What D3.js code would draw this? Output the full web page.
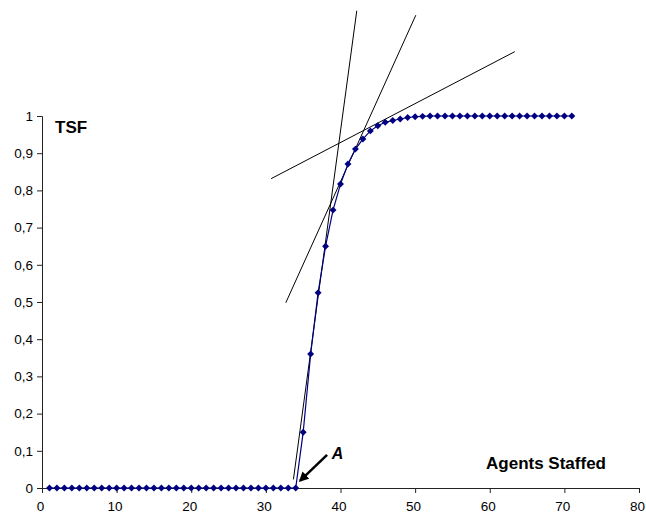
<!DOCTYPE html>
<html><head><meta charset="utf-8">
<script src="https://cdn.jsdelivr.net/npm/d3@7"></script>
<style>body{margin:0;background:#fff}svg{display:block}text{font-family:"Liberation Sans",Arial,sans-serif}</style>
</head><body>
<script>
// ---- data ----
const agents = d3.range(1, 72);
const tsfValues = [
  0,0,0,0,0,0,0,0,0,0, 0,0,0,0,0,0,0,0,0,0, 0,0,0,0,0,0,0,0,0,0, 0,0,0,0,
  0.15,0.36,0.525,0.65,0.747,0.817,0.871,0.911,0.938,0.96,0.974,0.983,0.988,0.992,0.996,0.998,0.999,
  1,1,1,1,1,1,1,1,1,1,1,1,1,1,1,1,1,1,1,1
];
const xTicks = [0,10,20,30,40,50,60,70,80];
const yTicks = [0,0.1,0.2,0.3,0.4,0.5,0.6,0.7,0.8,0.9,1];
const tangentLines = [
  [[33.69,0.023],[42.18,1.283]],
  [[32.67,0.498],[50.09,1.271]],
  [[30.7,0.8315],[63.36,1.173]]
];
const arrowSeg = [[38.2,0.089],[34.6,0.02]];
const labelA = [39.6,0.095];
const yTitle = "TSF";
const xTitle = "Agents Staffed";

// ---- layout ----
const W = 646, H = 517;
const svg = d3.select("body").append("svg").attr("width", W).attr("height", H);
const x = d3.scaleLinear().domain([0,80]).range([42,639]);
const y = d3.scaleLinear().domain([0,1]).range([488,116]);
const fmt = d => d === 0 ? "0" : d === 1 ? "1" : String(d).replace(".", ",");

const defs = svg.append("defs");
defs.append("marker").attr("id","ah").attr("viewBox","0 0 10 10").attr("refX",8).attr("refY",5)
  .attr("markerWidth",4).attr("markerHeight",4).attr("orient","auto")
  .append("path").attr("d","M0,0L10,5L0,10Z").attr("fill","#000");

// axes
const xAxis = svg.append("g").attr("transform",`translate(0,${y(0)})`)
  .call(d3.axisBottom(x).tickValues(xTicks).tickSize(5).tickPadding(8).tickFormat(d3.format("d")));
const yAxis = svg.append("g").attr("transform",`translate(${x(0)},0)`)
  .call(d3.axisLeft(y).tickValues(yTicks).tickSize(5).tickPadding(4).tickFormat(fmt));
[xAxis,yAxis].forEach(g=>{
  g.select(".domain").attr("stroke","#222").attr("stroke-width",1);
  g.selectAll(".tick line").attr("stroke","#222");
  g.selectAll("text").attr("font-size",13.5).attr("fill","#000").attr("font-family","'Liberation Sans',Arial,sans-serif");
});
xAxis.selectAll(".tick text").attr("dx",-2);

// tangent lines
const lineGen = d3.line().x(d=>x(d[0])).y(d=>y(d[1]));
svg.append("g").selectAll("path").data(tangentLines).join("path")
  .attr("d", lineGen).attr("fill","none").attr("stroke","#000").attr("stroke-width",1);

// series line
const pts = agents.map((a,i)=>[a,tsfValues[i]]);
svg.append("path").datum(pts).attr("d", d3.line().x(d=>x(d[0])).y(d=>y(d[1])))
  .attr("fill","none").attr("stroke","#000080").attr("stroke-width",1.2);

// markers
const sym = d3.symbol().type(d3.symbolSquare).size(24);
svg.append("g").selectAll("path").data(pts).join("path")
  .attr("d", sym).attr("fill","#000080")
  .attr("transform", d=>`translate(${x(d[0])},${y(d[1])}) rotate(45)`);

// arrow + label A
svg.append("path").datum(arrowSeg).attr("d", lineGen).attr("stroke","#000")
  .attr("stroke-width",2.5).attr("fill","none").attr("marker-end","url(#ah)");
svg.append("text").attr("x", x(labelA[0])).attr("y", y(labelA[1])+6)
  .attr("text-anchor","middle").attr("font-size",16).attr("font-weight","bold").attr("font-style","italic").text("A");

// titles
svg.append("text").attr("x",55).attr("y",133).attr("font-size",17).attr("font-weight","bold").text(yTitle);
svg.append("text").attr("x",546).attr("y",469).attr("text-anchor","middle").attr("font-size",17).attr("font-weight","bold").text(xTitle);
</script>
</body></html>
